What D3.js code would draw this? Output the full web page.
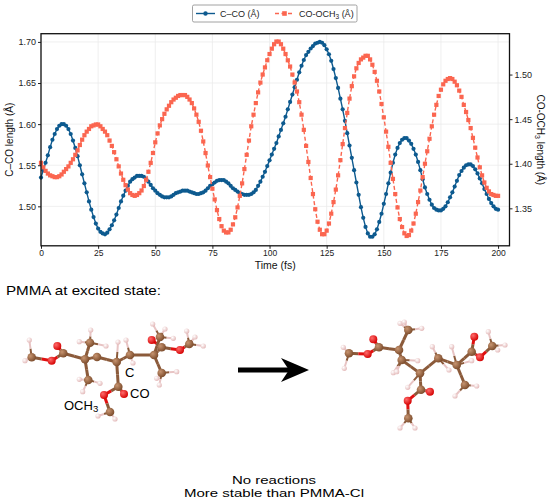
<!DOCTYPE html>
<html>
<head>
<meta charset="utf-8">
<script src="https://cdn.jsdelivr.net/npm/d3@7"></script>
<style>
html,body{margin:0;padding:0;background:#fff;}
svg{display:block;font-family:"Liberation Sans",Arial,sans-serif;}
</style>
</head>
<body>
<svg id="chart" width="550" height="504"></svg>
<script>
// ---------------- data ----------------
const seriesNames = ["C\u2013CO (\u00c5)", "CO-OCH"];
const timeFs = d3.range(0, 201, 1);
const xTicks = [0, 25, 50, 75, 100, 125, 150, 175, 200];
const leftTicks = [1.50, 1.55, 1.60, 1.65, 1.70];
const rightTicks = [1.35, 1.40, 1.45, 1.50];

// C–CO bond length (Å), one value per fs
const cCO = [
1.535,1.544,1.553,1.562,1.572,1.581,1.588,1.594,1.598,1.600,
1.600,1.598,1.594,1.588,1.580,1.571,1.561,1.550,1.539,1.528,
1.517,1.506,1.496,1.487,1.479,1.473,1.469,1.467,1.466,1.468,
1.472,1.477,1.483,1.490,1.498,1.506,1.513,1.519,1.525,1.530,
1.533,1.535,1.537,1.537,1.537,1.536,1.533,1.530,1.526,1.522,
1.519,1.516,1.514,1.512,1.511,1.511,1.511,1.512,1.514,1.516,
1.517,1.518,1.519,1.519,1.519,1.518,1.517,1.516,1.515,1.515,
1.516,1.517,1.519,1.522,1.525,1.527,1.529,1.531,1.532,1.532,
1.532,1.530,1.528,1.525,1.522,1.520,1.518,1.516,1.515,1.514,
1.514,1.514,1.515,1.517,1.520,1.525,1.530,1.536,1.542,1.549,
1.556,1.563,1.570,1.577,1.585,1.593,1.601,1.609,1.618,1.627,
1.636,1.645,1.654,1.663,1.671,1.678,1.684,1.688,1.692,1.695,
1.698,1.699,1.700,1.699,1.696,1.691,1.685,1.677,1.667,1.656,
1.644,1.631,1.618,1.604,1.589,1.574,1.559,1.544,1.529,1.514,
1.499,1.486,1.475,1.467,1.463,1.463,1.466,1.472,1.481,1.491,
1.503,1.515,1.528,1.541,1.553,1.563,1.571,1.577,1.581,1.583,
1.583,1.580,1.576,1.570,1.563,1.554,1.544,1.533,1.523,1.515,
1.508,1.502,1.498,1.496,1.495,1.495,1.497,1.500,1.505,1.511,
1.517,1.524,1.531,1.538,1.543,1.547,1.550,1.551,1.551,1.549,
1.545,1.540,1.534,1.528,1.521,1.515,1.509,1.504,1.500,1.497,
1.496];

// CO–OCH3 bond length (Å), one value per fs
const coOCH3 = [
1.401,1.396,1.392,1.389,1.387,1.386,1.385,1.385,1.386,1.388,
1.391,1.394,1.397,1.401,1.405,1.410,1.415,1.421,1.427,1.432,
1.436,1.439,1.442,1.443,1.444,1.444,1.442,1.439,1.436,1.432,
1.426,1.420,1.413,1.405,1.397,1.389,1.382,1.376,1.371,1.367,
1.365,1.364,1.365,1.367,1.370,1.375,1.382,1.391,1.401,1.412,
1.424,1.434,1.443,1.450,1.456,1.461,1.465,1.469,1.472,1.474,
1.476,1.477,1.477,1.477,1.475,1.472,1.468,1.462,1.455,1.447,
1.437,1.425,1.412,1.398,1.385,1.372,1.360,1.348,1.338,1.330,
1.325,1.323,1.323,1.326,1.332,1.340,1.351,1.364,1.378,1.394,
1.410,1.426,1.442,1.455,1.468,1.480,1.491,1.500,1.508,1.516,
1.523,1.529,1.534,1.537,1.537,1.534,1.529,1.523,1.516,1.509,
1.500,1.491,1.481,1.469,1.455,1.438,1.420,1.402,1.384,1.366,
1.349,1.335,1.326,1.321,1.321,1.325,1.333,1.344,1.357,1.371,
1.387,1.404,1.422,1.440,1.457,1.473,1.487,1.498,1.507,1.513,
1.517,1.519,1.521,1.521,1.517,1.511,1.503,1.493,1.481,1.467,
1.452,1.436,1.419,1.401,1.383,1.366,1.351,1.338,1.329,1.322,
1.319,1.320,1.325,1.333,1.344,1.357,1.370,1.385,1.400,1.414,
1.428,1.442,1.455,1.466,1.476,1.483,1.489,1.493,1.495,1.496,
1.495,1.492,1.488,1.482,1.475,1.466,1.458,1.449,1.440,1.429,
1.418,1.407,1.396,1.387,1.379,1.373,1.369,1.366,1.365,1.364,
1.364];

// ---------------- chart ----------------
const svg = d3.select("#chart");
const plot = {l: 41, r: 509.5, t: 33.7, b: 245.8};
const blue = "#0d5a8f", orange = "#fb6650";

const x = d3.scaleLinear().domain([0, 205]).range([plot.l, plot.r]);
const yL = d3.scaleLinear().domain([1.452, 1.710]).range([plot.b, plot.t]);
const yR = d3.scaleLinear().domain([1.308, 1.5458]).range([plot.b, plot.t]);

// grid
const grid = svg.append("g");
grid.selectAll("line.gx").data(xTicks).join("line")
  .attr("x1", d => x(d)).attr("x2", d => x(d)).attr("y1", plot.t).attr("y2", plot.b)
  .attr("stroke", "#ebebeb").attr("stroke-width", 0.8);
grid.selectAll("line.gy").data(leftTicks).join("line")
  .attr("x1", plot.l).attr("x2", plot.r).attr("y1", d => yL(d)).attr("y2", d => yL(d))
  .attr("stroke", "#ebebeb").attr("stroke-width", 0.8);

// axes
const fmt = d3.format(".2f");
const ax = svg.append("g").attr("transform", `translate(0,${plot.b})`)
  .call(d3.axisBottom(x).tickValues(xTicks).tickSize(3).tickPadding(1.5));
const ayl = svg.append("g").attr("transform", `translate(${plot.l},0)`)
  .call(d3.axisLeft(yL).tickValues(leftTicks).tickFormat(fmt).tickSize(3).tickPadding(2));
const ayr = svg.append("g").attr("transform", `translate(${plot.r},0)`)
  .call(d3.axisRight(yR).tickValues(rightTicks).tickFormat(fmt).tickSize(3).tickPadding(2));
[ax, ayl, ayr].forEach(g => {
  g.select(".domain").remove();
  g.selectAll("text").attr("font-size", 9).attr("fill", "#222")
    .attr("font-family", "Liberation Sans, Arial, sans-serif");
  g.selectAll("line").attr("stroke", "#222");
});
ax.selectAll("text").attr("font-size", 8.5);

// lines
const lineL = d3.line().x((d, i) => x(timeFs[i])).y(d => yL(d));
const lineR = d3.line().x((d, i) => x(timeFs[i])).y(d => yR(d));

svg.append("path").datum(cCO).attr("d", lineL)
  .attr("fill", "none").attr("stroke", blue).attr("stroke-width", 1.4);
svg.append("g").selectAll("circle").data(cCO).join("circle")
  .attr("cx", (d, i) => x(timeFs[i])).attr("cy", d => yL(d)).attr("r", 2.1)
  .attr("fill", blue);

svg.append("path").datum(coOCH3).attr("d", lineR)
  .attr("fill", "none").attr("stroke", orange).attr("stroke-width", 1.4)
  .attr("stroke-dasharray", "4,2.5");
const sq = 4.2;
svg.append("g").selectAll("rect").data(coOCH3).join("rect")
  .attr("x", (d, i) => x(timeFs[i]) - sq / 2).attr("y", d => yR(d) - sq / 2)
  .attr("width", sq).attr("height", sq).attr("fill", orange);

// frame
svg.append("rect").attr("x", plot.l).attr("y", plot.t)
  .attr("width", plot.r - plot.l).attr("height", plot.b - plot.t)
  .attr("fill", "none").attr("stroke", "#111").attr("stroke-width", 1.3);

// axis titles
svg.append("text").attr("x", (plot.l + plot.r) / 2).attr("y", 269)
  .attr("text-anchor", "middle").attr("font-size", 10.5).attr("fill", "#111").text("Time (fs)");
svg.append("text").attr("transform", `translate(13,${(plot.t + plot.b) / 2}) rotate(-90)`)
  .attr("text-anchor", "middle").attr("font-size", 10).attr("fill", "#111").text("C\u2013CO length (\u00c5)");
const rt = svg.append("text").attr("transform", `translate(537,${(plot.t + plot.b) / 2}) rotate(90)`)
  .attr("text-anchor", "middle").attr("font-size", 10).attr("fill", "#111");
rt.append("tspan").text("CO-OCH");
rt.append("tspan").attr("font-size", 7).attr("dy", 2.5).text("3");
rt.append("tspan").attr("dy", -2.5).text(" length (\u00c5)");

// legend
const lg = svg.append("g");
lg.append("rect").attr("x", 192.5).attr("y", 5).attr("width", 164.5).attr("height", 17)
  .attr("rx", 1.5).attr("fill", "#fff").attr("stroke", "#8a8a8a").attr("stroke-width", 0.8);
lg.append("line").attr("x1", 196).attr("x2", 215).attr("y1", 13.5).attr("y2", 13.5)
  .attr("stroke", blue).attr("stroke-width", 1.4);
lg.append("circle").attr("cx", 205.5).attr("cy", 13.5).attr("r", 2.2).attr("fill", blue);
lg.append("text").attr("x", 220).attr("y", 16.8).attr("font-size", 9).attr("fill", "#222").text(seriesNames[0]);
lg.append("line").attr("x1", 275).attr("x2", 294).attr("y1", 13.5).attr("y2", 13.5)
  .attr("stroke", orange).attr("stroke-width", 1.4).attr("stroke-dasharray", "4,2.5");
lg.append("rect").attr("x", 284.5 - 2.3).attr("y", 13.5 - 2.3).attr("width", 4.6).attr("height", 4.6).attr("fill", orange);
const lt = lg.append("text").attr("x", 299).attr("y", 16.8).attr("font-size", 9).attr("fill", "#222");
lt.append("tspan").text(seriesNames[1]);
lt.append("tspan").attr("font-size", 6.5).attr("dy", 2).text("3");
lt.append("tspan").attr("dy", -2).text(" (\u00c5)");

// ---------------- lower illustration ----------------
svg.append("text").attr("x", 6).attr("y", 295).attr("font-size", 13.5).attr("fill", "#000")
  .attr("textLength", 155).attr("lengthAdjust", "spacingAndGlyphs")
  .text("PMMA at excited state:");
svg.append("text").attr("x", 274).attr("y", 483.5).attr("text-anchor", "middle")
  .attr("font-size", 11.8).attr("fill", "#000")
  .attr("textLength", 84).attr("lengthAdjust", "spacingAndGlyphs").text("No reactions");
svg.append("text").attr("x", 274).attr("y", 497).attr("text-anchor", "middle")
  .attr("font-size", 11.8).attr("fill", "#000")
  .attr("textLength", 180).attr("lengthAdjust", "spacingAndGlyphs").text("More stable than PMMA-Cl");

// arrow
svg.append("line").attr("x1", 238).attr("x2", 292).attr("y1", 370).attr("y2", 370)
  .attr("stroke", "#000").attr("stroke-width", 5);
svg.append("path").attr("d", "M309,370 L281,358 L289,370 L281,382 Z").attr("fill", "#000");

// molecule geometry (illustration)
const defs = svg.append("defs");
const atomStyle = {
  C: {r: 4.3, c0: "#c79470", c1: "#7a4a2a"},
  O: {r: 4.0, c0: "#ff6b6b", c1: "#d40000"},
  H: {r: 2.6, c0: "#ffffff", c1: "#e3b8b8"}
};
Object.entries(atomStyle).forEach(([k, s]) => {
  const g = defs.append("radialGradient").attr("id", "g" + k).attr("cx", "35%").attr("cy", "35%").attr("r", "70%");
  g.append("stop").attr("offset", "0%").attr("stop-color", s.c0);
  g.append("stop").attr("offset", "100%").attr("stop-color", s.c1);
});
const bondColor = {C: "#8b5a3a", O: "#e01010", H: "#e8c4c4"};

const molLeftAtoms = [
["C",31.7,357.3],["H",29.3,340],["H",25,360.7],["O",51.7,360.7],["C",63.3,353.3],["O",57.3,346],
["C",85,359.3],["C",90,342.7],["H",90.7,330],["H",106,346],["H",79.3,341.7],
["C",88.3,380],["H",79.3,379.3],["H",82.7,391.7],["H",100,383.3],
["C",97,357],["C",116.7,362],["H",118,342],["H",126,340],["C",130,355],["H",133,363],
["C",118.3,386.7],["O",124,394],["O",104,395],["C",110,412],["H",98,416],["H",115,419],
["C",154,355],["C",161.7,347.3],["O",151.7,340],["O",180,350],["C",189.3,344],
["H",186.7,331],["H",203.3,346],["H",195,337],
["C",161.7,373],["H",176.7,371.7],["H",156.7,378.3],["H",159.3,385],
["C",160,337],["H",152.7,324],["H",165,329],["H",173.3,338.3]];
const molLeftBonds = [[0,1],[0,2],[0,3],[3,4],[4,5],[4,6],[6,7],[7,8],[7,9],[7,10],[6,11],[11,12],[11,13],[11,14],
[6,15],[15,16],[16,17],[19,18],[16,19],[19,20],[16,21],[21,22],[21,23],[23,24],[24,25],[24,26],[19,27],[27,28],
[28,29],[28,30],[30,31],[31,32],[31,33],[31,34],[27,35],[35,36],[35,37],[35,38],[27,39],[39,40],[39,41],[39,42]];

const molRightAtoms = [
["C",349,353.3],["H",343.3,347.3],["H",344.3,368.3],["O",367.7,354],["C",379,347.3],["O",373.3,339.3],
["C",399,350],["C",408.3,330],["H",400,323.3],["H",404.3,322],["H",421.7,328.3],
["C",401.7,360],["H",417.7,360.7],["H",393.3,372.7],["H",396.7,371.7],
["C",420,373.3],["H",407.7,387.3],["C",421,389.7],["O",430,391.7],["O",407.7,400.7],["C",408.3,418.3],
["H",400,428],["H",415,428],
["C",438.3,358.3],["H",432.3,346.7],["H",449,370],
["C",456.7,365],["H",451.7,346.7],["C",471.7,351.7],["O",474.3,336.7],["O",480,357.3],["C",492.3,346],
["H",488.3,331.7],["H",505,345],["H",497.7,350],
["C",465,385],["H",455,396],["H",476.7,386],["H",471.7,360.7]];
const molRightBonds = [[0,1],[0,2],[0,3],[3,4],[4,5],[4,6],[6,7],[7,8],[7,9],[7,10],[6,11],[11,12],[11,13],[11,14],
[11,15],[15,16],[15,17],[17,18],[17,19],[19,20],[20,21],[20,22],[15,23],[23,24],[23,25],[23,26],[26,27],[26,28],
[28,29],[28,30],[30,31],[31,32],[31,33],[31,34],[26,35],[35,36],[35,37],[26,38]];

function drawMolecule(atoms, bonds) {
  const g = svg.append("g");
  bonds.forEach(([a, b]) => {
    const A = atoms[a], B = atoms[b];
    const mx = (A[1] + B[1]) / 2, my = (A[2] + B[2]) / 2;
    const w = (A[0] === "H" || B[0] === "H") ? 2 : 3;
    g.append("line").attr("x1", A[1]).attr("y1", A[2]).attr("x2", mx).attr("y2", my)
      .attr("stroke", bondColor[A[0]]).attr("stroke-width", w);
    g.append("line").attr("x1", mx).attr("y1", my).attr("x2", B[1]).attr("y2", B[2])
      .attr("stroke", bondColor[B[0]]).attr("stroke-width", w);
  });
  g.selectAll("circle").data(atoms).join("circle")
    .attr("cx", d => d[1]).attr("cy", d => d[2]).attr("r", d => atomStyle[d[0]].r)
    .attr("fill", d => `url(#g${d[0]})`);
}
drawMolecule(molLeftAtoms, molLeftBonds);
drawMolecule(molRightAtoms, molRightBonds);

// labels on left molecule
svg.append("text").attr("x", 125).attr("y", 377).attr("font-size", 13).text("C");
svg.append("text").attr("x", 130).attr("y", 398).attr("font-size", 13).text("CO");
const och = svg.append("text").attr("x", 64).attr("y", 410).attr("font-size", 13);
och.append("tspan").text("OCH");
och.append("tspan").attr("font-size", 9.5).attr("dy", 2).text("3");
</script>
</body>
</html>
